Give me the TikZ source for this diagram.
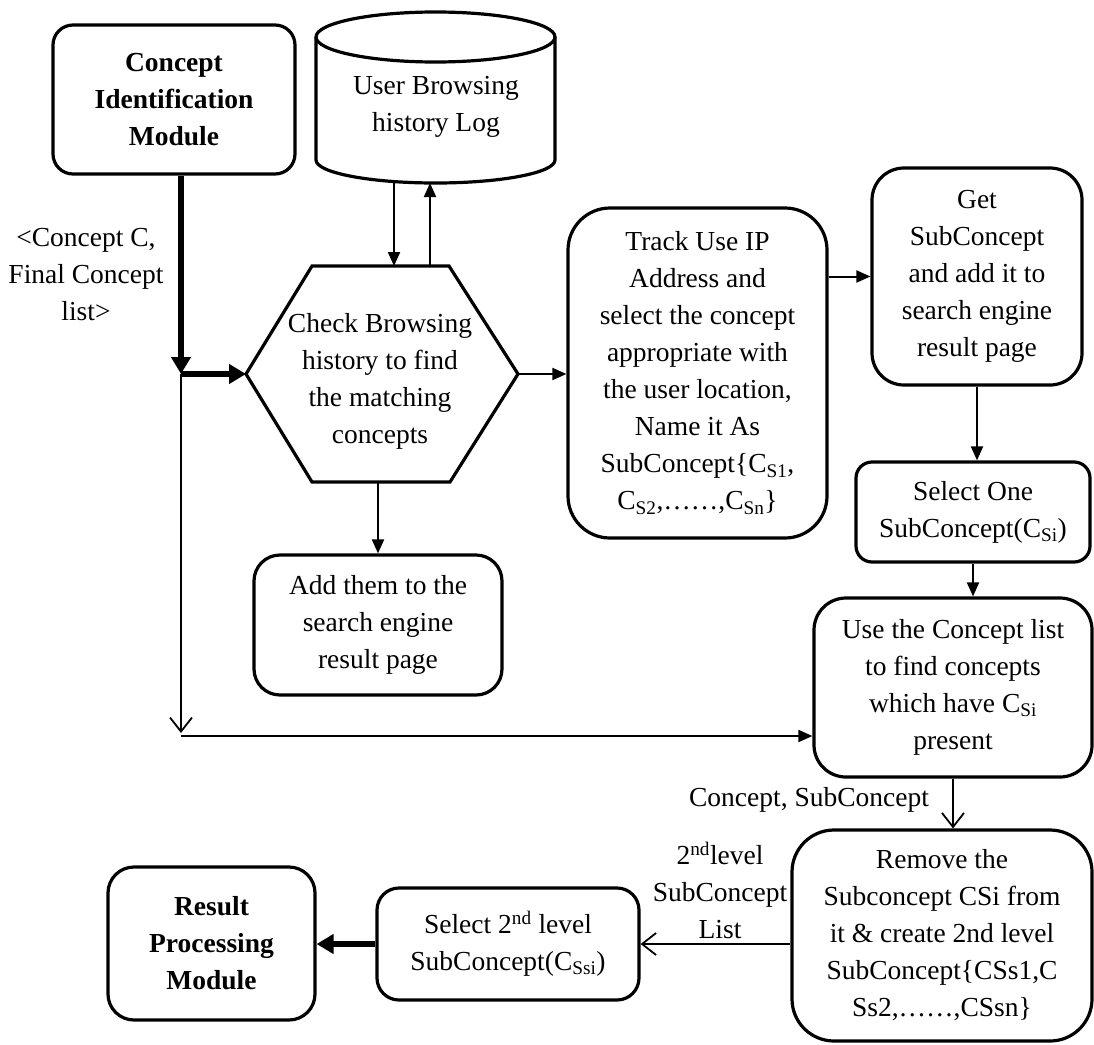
\documentclass[tikz,border=0pt]{standalone}
\usepackage{fontspec}
\setmainfont{Liberation Serif}
\usetikzlibrary{arrows.meta}
\begin{document}
\begin{tikzpicture}[x=1pt,y=-1pt,
  txt/.style={font=\fontsize{27.5}{37}\selectfont, align=center, inner sep=0pt},
  blk/.style={txt, draw, line width=3.2pt, rounded corners=#1},
  blk/.default=20pt,
  outline/.style={line width=3.2pt},
  ln/.style={line width=2pt},
  fa/.style={ln, -{Triangle[length=14pt,width=12pt]}},
  oa/.style={line width=1.8pt, -{Straight Barb[length=14pt,width=22pt]}},
  heavy/.style={line width=6pt, -{Triangle[length=17pt,width=19pt]}}]
\useasboundingbox (0,0) rectangle (1094,1044);

% process boxes
\node[blk=20pt, minimum width=242pt, minimum height=149pt] (cim) at (174,99.5)
  {\bfseries Concept\\\bfseries Identification\\\bfseries Module};
\node[blk=42pt, minimum width=259pt, minimum height=330pt] (track) at (697.5,373)
  {Track Use IP\\Address and\\select the concept\\appropriate with\\the user location,\\Name it As\\SubConcept\{C\textsubscript{S1},\\C\textsubscript{S2},……,C\textsubscript{Sn}\}};
\node[blk=32pt, minimum width=210pt, minimum height=217pt] (get) at (977,276.5)
  {Get\\SubConcept\\and add it to\\search engine\\result page};
\node[blk=16pt, minimum width=234pt, minimum height=100pt] (sel) at (973,512)
  {Select One\\SubConcept(C\textsubscript{Si})};
\node[blk=32pt, minimum width=278pt, minimum height=179pt] (use) at (953,687.5)
  {Use the Concept list\\to find concepts\\which have C\textsubscript{Si}\\present};
\node[blk=42pt, minimum width=300pt, minimum height=211pt] (rem) at (942,935.5)
  {Remove the\\Subconcept CSi from\\it \& create 2nd level\\SubConcept\{CSs1,C\\Ss2,……,CSsn\}};
\node[blk=26pt, minimum width=248pt, minimum height=140pt] (add) at (378,625)
  {Add them to the\\search engine\\result page};
\node[blk=26pt, minimum width=207pt, minimum height=153pt] (res) at (211.5,943.5)
  {\bfseries Result\\\bfseries Processing\\\bfseries Module};
\node[blk=22pt, minimum width=262pt, minimum height=112pt] (s2) at (508,944)
  {Select 2\textsuperscript{nd} level\\SubConcept(C\textsubscript{Ssi})};

% browsing history log (cylinder)
\draw[outline] (435.5,37) ellipse [x radius=119.5pt, y radius=25pt];
\draw[outline] (316,37) -- (316,160) arc[start angle=180, end angle=360, x radius=119.5pt, y radius=23pt] -- (555,37);
\node[txt] (cyl) at (436,107) {User Browsing\\history Log};
\coordinate (cylA) at (394,182);
\coordinate (cylB) at (430,183);

% decision hexagon
\coordinate (h1) at (312,266);
\coordinate (h2) at (449,266);
\coordinate (hexR) at (518,374);
\coordinate (h4) at (450,482);
\coordinate (h5) at (312,482);
\coordinate (hexL) at (246,374);
\draw[outline] (h1) -- (h2) -- (hexR) -- (h4) -- (h5) -- (hexL) -- cycle;
\node[txt] (hex) at (380,381) {Check Browsing\\history to find\\the matching\\concepts};

% junction points on the left
\coordinate (jn) at (181,374);
\coordinate (crn) at (181,736);

% labels
\node[txt] (lblc) at (86,275) {<Concept C,\\Final Concept\\list>};
\node[txt] (lblcs) at (809,800) {Concept, SubConcept};
\node[txt] (lbl2) at (720,890) {2\textsuperscript{nd}level\\SubConcept\\List};

% connectors
\draw[heavy] (cim.south -| jn) -- (jn);
\draw[heavy] (jn) -- (hexL);
\draw[oa] (jn) -- ([yshift=3pt]crn);
\draw[fa] (crn) -- (crn -| use.west);
\draw[fa] (cylA) -- (cylA |- h1);
\draw[fa] (cylB |- h1) -- (cylB);
\draw[fa] (hexR) -- (hexR -| track.west);
\draw[fa] (add.north |- h5) -- (add.north);
\draw[fa] (track.east |- get.west) -- (get.west);
\draw[fa] (get.south) -- (get.south |- sel.north);
\draw[fa] (sel.south) -- (sel.south |- use.north);
\draw[oa] (use.south) -- (use.south |- rem.north);
\draw[oa] (rem.west |- s2.east) -- (s2.east);
\draw[heavy] (s2.west) -- (s2.west -| res.east);
\end{tikzpicture}
\end{document}
